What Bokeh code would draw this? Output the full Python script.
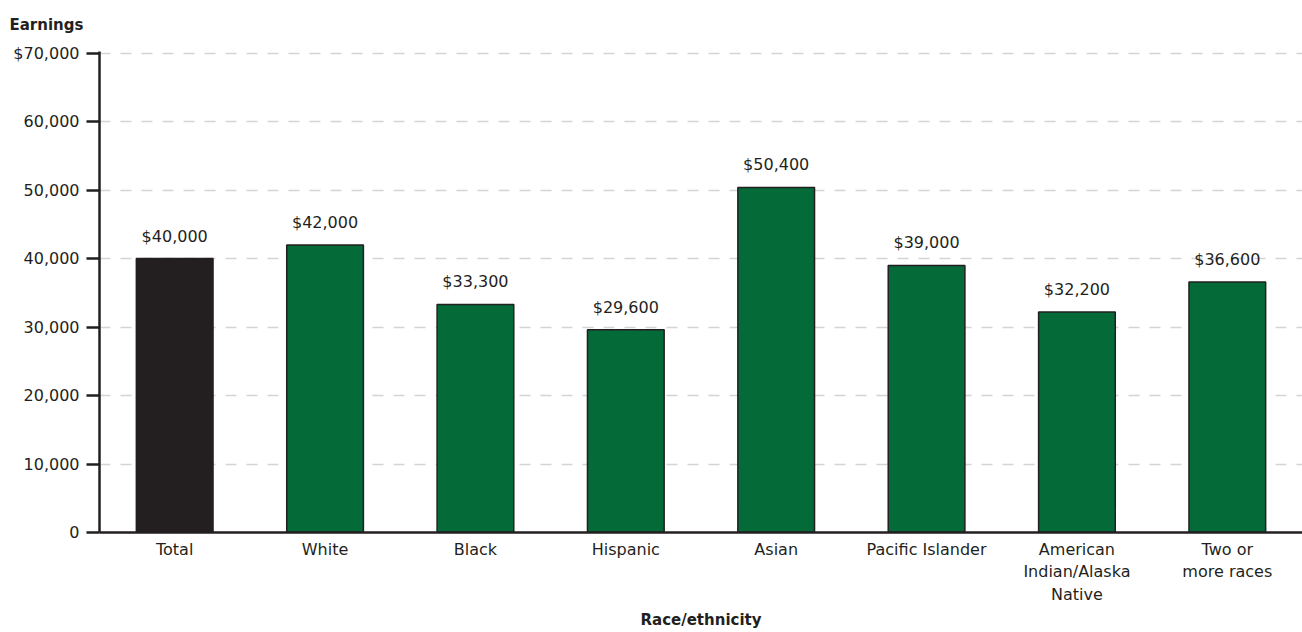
from bokeh.plotting import figure
from bokeh.models import ColumnDataSource, Range1d, FixedTicker, Title, LabelSet, CustomJSTickFormatter
from bokeh.core.properties import value
from bokeh.embed import file_html
from bokeh.resources import INLINE

categories = ["Total", "White", "Black", "Hispanic", "Asian", "Pacific Islander",
              "American\nIndian/Alaska\nNative", "Two or\nmore races"]
earnings = [40000, 42000, 33300, 29600, 50400, 39000, 32200, 36600]
bar_colors = ["#231f20", "#046a38", "#046a38", "#046a38", "#046a38", "#046a38", "#046a38", "#046a38"]
y_ticks = [0, 10000, 20000, 30000, 40000, 50000, 60000, 70000]

FONT = "DejaVu Sans"
TXT = "#231f20"

xs = list(range(len(categories)))
src = ColumnDataSource(dict(
    x=xs, top=earnings, color=bar_colors,
    label=["${:,}".format(v) for v in earnings],
))

p = figure(width=1302, height=632, output_backend="svg", toolbar_location=None,
           x_range=Range1d(-0.5, 7.5), y_range=Range1d(0, 70250),
           min_border_left=99, min_border_right=0, min_border_top=50, min_border_bottom=100)
p.outline_line_color = None
p.background_fill_color = "white"

p.vbar(x="x", top="top", width=0.51, source=src, fill_color="color",
       line_color="#231f20", line_width=1.5)

labels = LabelSet(x="x", y="top", text="label", source=src, text_align="center",
                  text_baseline="bottom", y_offset=13, text_font=value(FONT),
                  text_font_size=value("16px"), text_color=value(TXT))
p.add_layout(labels)

# Y axis
p.yaxis.ticker = FixedTicker(ticks=y_ticks)
p.yaxis.formatter = CustomJSTickFormatter(code="""
    const s = tick.toLocaleString('en-US');
    return tick == 70000 ? '$' + s : s;
""")
p.yaxis.axis_line_width = 2.5
p.yaxis.axis_line_color = TXT
p.yaxis.major_tick_line_width = 2.5
p.yaxis.major_tick_line_color = TXT
p.yaxis.major_tick_out = 13
p.yaxis.major_tick_in = 0
p.yaxis.minor_tick_line_color = None
p.yaxis.major_label_text_font = FONT
p.yaxis.major_label_text_font_size = "16px"
p.yaxis.major_label_text_color = TXT
p.yaxis.major_label_standoff = 7

# X axis
p.xaxis.ticker = FixedTicker(ticks=xs)
p.xaxis.major_label_overrides = {i: c for i, c in zip(xs, categories)}
p.xaxis.axis_line_width = 2.5
p.xaxis.axis_line_color = TXT
p.xaxis.major_tick_line_color = None
p.xaxis.major_tick_out = 0
p.xaxis.major_tick_in = 0
p.xaxis.minor_tick_line_color = None
p.xaxis.major_label_text_font = FONT
p.xaxis.major_label_text_font_size = "16px"
p.xaxis.major_label_text_color = TXT
p.xaxis.major_label_text_line_height = 1.2
p.xaxis.major_label_standoff = 7
p.xaxis.axis_label = "Race/ethnicity"
p.xaxis.axis_label_text_font = FONT
p.xaxis.axis_label_text_font_style = "bold"
p.xaxis.axis_label_text_font_size = "15px"
p.xaxis.axis_label_text_color = TXT
p.xaxis.axis_label_standoff = 4

# Grid
p.xgrid.grid_line_color = None
p.ygrid.grid_line_color = "#d4d4d4"
p.ygrid.grid_line_width = 1.5
p.ygrid.grid_line_dash = "11 10"

title = Title(text="Earnings", align="left", offset=-90, text_font=FONT,
              text_font_size="15px", text_font_style="bold", text_color=TXT,
              standoff=31, vertical_align="top")
p.add_layout(title, "above")

open("out.html", "w").write(file_html(p, INLINE))
